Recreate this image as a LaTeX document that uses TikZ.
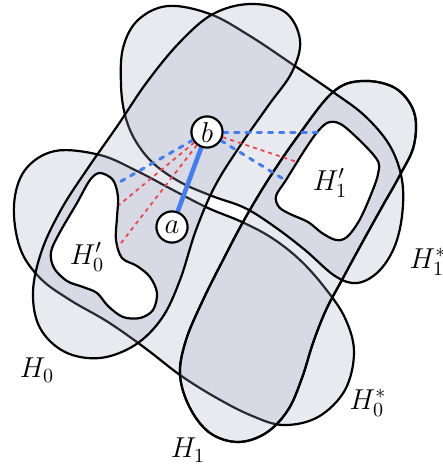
\documentclass[tikz,border=0pt]{standalone}
\definecolor{shapefill}{RGB}{163,171,195}
\definecolor{pathblue}{RGB}{70,125,235}
\definecolor{pathred}{RGB}{232,72,82}
\tikzset{
  region/.style={fill=shapefill, fill opacity=0.25, draw=black, line width=1.1pt},
  outline/.style={draw=black, line width=1.1pt},
  hole/.style={fill=white, draw=black, line width=1.1pt},
  pt/.style={circle, draw=black, fill=white, line width=1pt, minimum size=15.5pt, inner sep=0pt, font=\Large},
  lab/.style={font=\Large, inner sep=0pt},
  bluedash/.style={pathblue, line width=1.5pt, dash pattern=on 2.2pt off 3.4pt, line cap=round},
  reddot/.style={pathred, line width=0.9pt, dash pattern=on 2pt off 2pt},
  link/.style={pathblue, line width=2.3pt},
}
\begin{document}
\begin{tikzpicture}[x=0.5pt, y=-0.5pt]
\useasboundingbox (0,0) rectangle (443,466);
% H_0^* (lower NW-SE band)
\path[region] plot[smooth cycle, tension=0.6] coordinates {(14,205) (25,170) (55,151) (100,155) (137,171) (173,190) (208,208) (242,222) (272,238) (300,260) (325,288) (345,318) (354,352) (345,390) (318,417) (283,425) (250,415) (215,397) (180,375) (145,348) (108,322) (70,300) (40,278) (20,248)};
% H_1 (right NE band)
\def\Bpath{plot[smooth cycle, tension=0.6] coordinates {(333,92) (362,81) (395,88) (414,112) (414,145) (400,175) (382,207) (362,243) (343,278) (326,310) (313,343) (302,378) (288,410) (266,433) (238,442) (210,433) (190,408) (180,375) (186,340) (203,300) (222,262) (243,222) (268,180) (298,136)}}
\path[region] \Bpath;
% H_1^* (upper NW-SE band)
\path[region] plot[smooth cycle, tension=0.6] coordinates {(121,85) (123,48) (138,20) (168,6) (210,14) (250,36) (292,64) (333,92) (365,116) (390,146) (402,180) (402,216) (394,248) (378,272) (357,283) (335,276) (305,250) (275,227) (245,208) (212,196) (180,182) (153,163) (135,140) (125,115)};
% H_0 (left NE band)
\path[region] plot[smooth cycle, tension=0.6] coordinates {(250,4) (285,12) (300,40) (292,72) (268,106) (240,146) (215,186) (196,230) (180,280) (162,318) (135,345) (100,358) (65,352) (40,328) (33,292) (42,250) (62,208) (88,168) (118,125) (147,82) (180,42) (213,14)};
\path[outline] \Bpath;
% holes
\path[hole] plot[smooth cycle, tension=0.55] coordinates {(100,173) (113,180) (118,197) (117,217) (116,240) (122,258) (137,266) (150,277) (157,293) (153,310) (140,318) (123,317) (108,306) (97,293) (83,287) (67,281) (54,268) (51,252) (60,232) (77,203) (90,180)};
\path[hole] plot[smooth cycle, tension=0.55] coordinates {(330,122) (345,127) (376,158) (378,174) (370,197) (359,221) (347,237) (336,240) (322,233) (308,222) (290,214) (279,207) (276,196) (286,180) (306,148) (319,130)};
% points
\node[pt] (b) at (207,132) {$b$};
\node[pt] (a) at (172,227) {$a$};
\coordinate (l0) at (118,183);
\coordinate (l1) at (119,205);
\coordinate (l2) at (118,247);
\coordinate (r0) at (318,132);
\coordinate (r1) at (297,162);
\coordinate (r2) at (285,180);
\draw[reddot] (b) -- (l1);
\draw[reddot] (b) -- (l2);
\draw[reddot] (b) -- (r1);
\draw[bluedash] (b) -- (l0);
\draw[bluedash] (b) -- (r0);
\draw[bluedash] (b) -- (r2);
\draw[link] (a) -- (b);
\node[pt] at (b) {$b$};
\node[pt] at (a) {$a$};
% labels
\node[lab] (lh0p) at (87,257) {$H_0'$};
\node[lab] (lh1p) at (330,183) {$H_1'$};
\node[lab] (lh0) at (37,370) {$H_0$};
\node[lab] (lh1) at (188,450) {$H_1$};
\node[lab] (lh0s) at (368,403) {$H_0^*$};
\node[lab] (lh1s) at (428,262) {$H_1^*$};
\end{tikzpicture}
\end{document}
